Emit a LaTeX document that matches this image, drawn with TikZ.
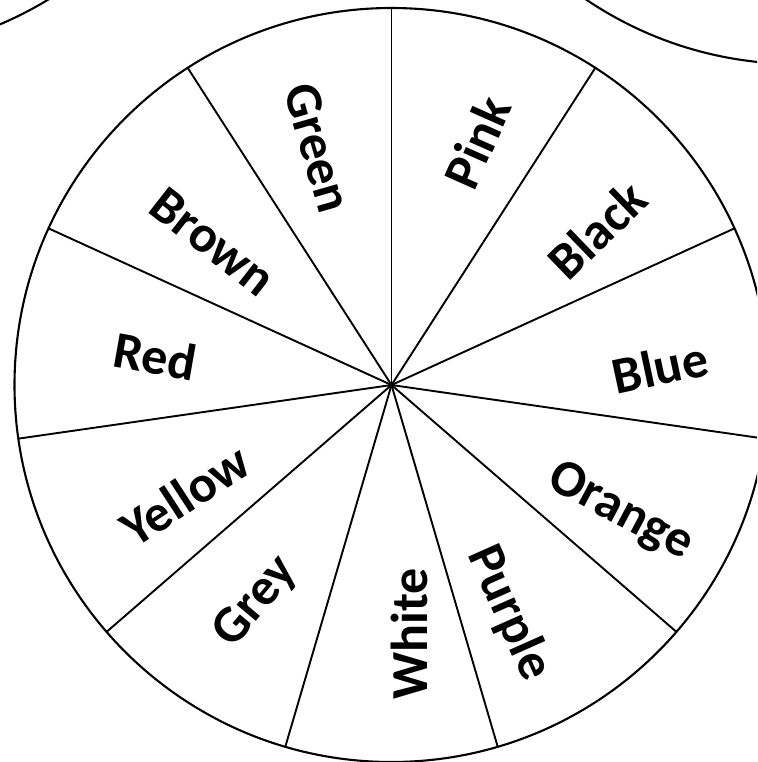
\documentclass[tikz,border=0pt]{standalone}
\usepackage{fontspec}
\setmainfont{Carlito}
\begin{document}
\begin{tikzpicture}[x=1pt,y=-1pt,
  rim/.style={line width=2.1pt},
  spoke/.style={line width=1.9pt},
  lbl/.style={font=\fontsize{52}{60}\selectfont\bfseries, inner sep=0pt, anchor=center}]
\useasboundingbox (0,0) rectangle (757,762);
\clip (0,0) rectangle (757,762);
\coordinate (c) at (391.5,385);
\coordinate (tl) at (-147.5,-322.7);
\coordinate (tr) at (797,-313);
\draw[rim] (tl) circle[radius=377];
\draw[rim] (tr) circle[radius=377];
\draw[rim] (c) circle[radius=377];
\foreach \k in {0,...,10}{
  \draw[spoke] (c) -- ++({-(90-\k*32.7273)}:377);
}
\node[lbl, rotate=-74] (green)  at (318,148) {Green};
\node[lbl, rotate=66]  (pink)   at (477,142) {Pink};
\node[lbl, rotate=44]  (black)  at (597,230) {Black};
\node[lbl, rotate=12]  (blue)   at (660,367) {Blue};
\node[lbl, rotate=-28] (orange) at (620,512) {Orange};
\node[lbl, rotate=-66] (purple) at (509,613) {Purple};
\node[lbl, rotate=90]  (white)  at (409,634) {White};
\node[lbl, rotate=50]  (grey)   at (256,602) {Grey};
\node[lbl, rotate=33]  (yellow) at (185,495) {Yellow};
\node[lbl, rotate=-10] (red)    at (155,356) {Red};
\node[lbl, rotate=-38] (brown)  at (213,242) {Brown};
\end{tikzpicture}
\end{document}
